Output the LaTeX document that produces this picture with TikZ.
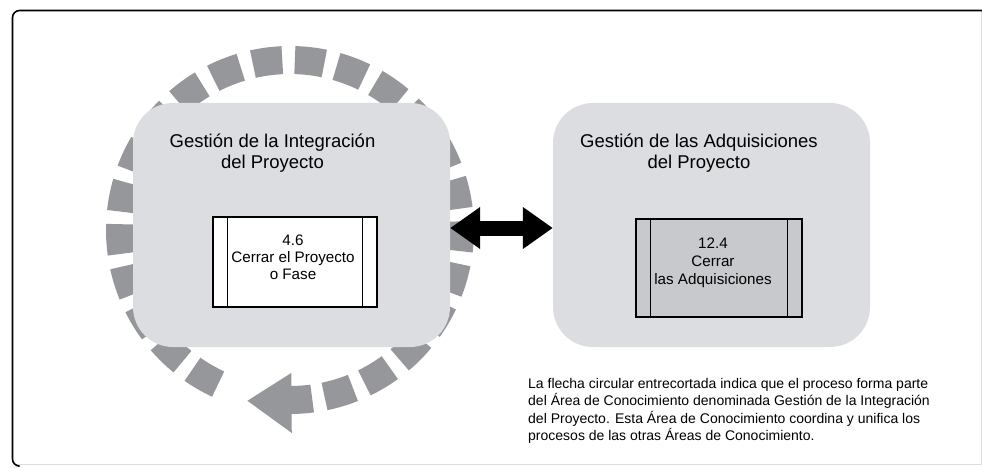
\documentclass[tikz,border=0pt]{standalone}
\usepackage{fontspec}
\setmainfont{Liberation Sans}
\usetikzlibrary{arrows.meta,calc}
\definecolor{ringgray}{RGB}{150,151,155}
\definecolor{areafill}{RGB}{220,221,224}
\definecolor{procgray}{RGB}{200,201,204}
\definecolor{framegray}{RGB}{222,222,222}
\begin{document}
\begin{tikzpicture}[x=1pt,y=1pt,
  area/.style={draw=none, fill=areafill, rounded corners=40pt, minimum width=317pt, minimum height=244pt, inner sep=0pt},
  title/.style={font=\fontsize{18.5}{21}\selectfont, anchor=base, inner sep=0pt},
  proc/.style={draw=black, line width=1.3pt, inner sep=0pt},
  proctext/.style={font=\fontsize{15.2}{17}\selectfont, anchor=base, inner sep=0pt},
  note/.style={font=\fontsize{14}{17}\selectfont, anchor=base west, inner sep=0pt},
  ringseg/.style={draw=ringgray, line width=28pt},
  bigarrow/.style={line width=15pt, {Triangle[length=30pt,width=40pt]}-{Triangle[length=30pt,width=40pt]}}
]
\useasboundingbox (0,0) rectangle (982,-468);
\fill[white] (0,0) rectangle (982,-468);
% frame
\draw[framegray, line width=1pt] (14,-464) -- (981,-464) -- (981,-11);
\draw[black, line width=1.6pt, rounded corners=7pt] (18,-466) -- (12.5,-466) -- (12.5,-10.5) -- (982,-10.5);
% circular dashed arrow
\coordinate (C) at (290,-230);
\foreach \k in {0,...,22} {
  \pgfmathsetmacro\a{240-14.24*\k}
  \draw[ringseg] ($(C)+(\a+5:170pt)$) arc[start angle=\a+5, end angle=\a-5, radius=170pt];
}
\fill[ringgray] ($(C)+(-82.5:156pt)$) arc[start angle=-82.5, end angle=-89.5, radius=156pt]
  -- ($(C)+(-89.5:143pt)$) -- ($(C)+(-104:176pt)$) -- ($(C)+(-89.5:203pt)$)
  -- ($(C)+(-89.5:184pt)$) arc[start angle=-89.5, end angle=-82.5, radius=184pt] -- cycle;
% knowledge areas
\node[area] (lbox) at (291.5,-225) {};
\node[area] (rbox) at (711.5,-225) {};
\node[title] (lt1) at (272.5,-147) {Gestión de la Integración};
\node[title] (lt2) at (272.5,-168) {del Proyecto};
\node[title] (rt1) at (699,-147) {Gestión de las Adquisiciones};
\node[title] (rt2) at (699,-168) {del Proyecto};
% processes
\node[proc, fill=white, minimum width=164pt, minimum height=90pt] (p1) at (295,-262) {};
\draw[black, line width=1.3pt] ([xshift=15pt]p1.north west) -- ([xshift=15pt]p1.south west);
\draw[black, line width=1.3pt] ([xshift=-15pt]p1.north east) -- ([xshift=-15pt]p1.south east);
\node[proc, fill=procgray, minimum width=166pt, minimum height=98pt] (p2) at (719,-268) {};
\draw[black, line width=1.3pt] ([xshift=15pt]p2.north west) -- ([xshift=15pt]p2.south west);
\draw[black, line width=1.3pt] ([xshift=-15pt]p2.north east) -- ([xshift=-15pt]p2.south east);
\node[proctext] (p1a) at (293,-245) {4.6};
\node[proctext] (p1b) at (293,-262) {Cerrar el Proyecto};
\node[proctext] (p1c) at (293,-279) {o Fase};
\node[proctext] (p2a) at (713,-248) {12.4};
\node[proctext] (p2b) at (713,-266) {Cerrar};
\node[proctext] (p2c) at (713,-284) {las Adquisiciones};
% double arrow
\draw[bigarrow] ([yshift=-3pt]lbox.east) -- ([yshift=-3pt]rbox.west);
% note
\node[note] (n1) at (528,-388) {La flecha circular entrecortada indica que el proceso forma parte};
\node[note] (n2) at (528,-405.5) {del Área de Conocimiento denominada Gestión de la Integración};
\node[note] (n3) at (528,-423) {del Proyecto. Esta Área de Conocimiento coordina y unifica los};
\node[note] (n4) at (528,-440.5) {procesos de las otras Áreas de Conocimiento.};
\end{tikzpicture}
\end{document}
